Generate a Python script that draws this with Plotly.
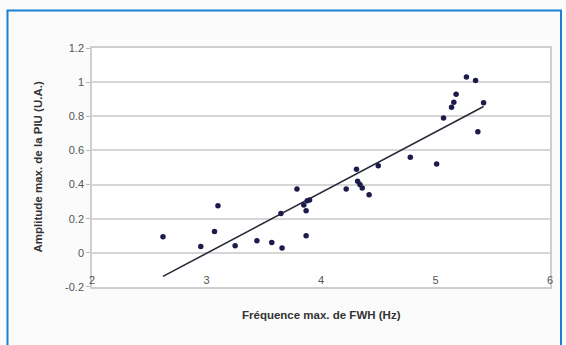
import numpy as np
import plotly.graph_objects as go

freq = [2.62, 2.95, 3.07, 3.10, 3.25, 3.44, 3.57, 3.65, 3.66, 3.79,
        3.85, 3.87, 3.88, 3.90, 3.87, 4.22, 4.31, 4.32, 4.34, 4.36,
        4.42, 4.50, 4.78, 5.01, 5.07, 5.14, 5.16, 5.18, 5.27, 5.35,
        5.42, 5.37]
ampl = [0.094, 0.037, 0.125, 0.276, 0.041, 0.070, 0.060, 0.230, 0.028, 0.374,
        0.280, 0.247, 0.305, 0.310, 0.100, 0.374, 0.490, 0.420, 0.400, 0.380,
        0.340, 0.510, 0.560, 0.520, 0.790, 0.853, 0.883, 0.930, 1.030, 1.010,
        0.880, 0.710]

x_ticks = [2, 3, 4, 5, 6]
y_ticks = [-0.2, 0, 0.2, 0.4, 0.6, 0.8, 1, 1.2]
y_labels = ["-0.2", "0", "0.2", "0.4", "0.6", "0.8", "1", "1.2"]

x_title = "Fréquence max. de FWH (Hz)"
y_title = "Amplitude max. de la PIU (U.A.)"

slope, intercept = np.polyfit(freq, ampl, 1)
fx = [min(freq), max(freq)]
fy = [slope * v + intercept for v in fx]

W, H = 566, 345
L, R, T, B = 92, 16, 48, 58
pw, ph = W - L - R, H - T - B

fig = go.Figure()
fig.add_trace(go.Scatter(x=fx, y=fy, mode="lines",
                         line=dict(color="#2a2a3a", width=1.6),
                         hoverinfo="skip", showlegend=False))
fig.add_trace(go.Scatter(x=freq, y=ampl, mode="markers",
                         marker=dict(color="#1c1c4c", size=5.5),
                         showlegend=False))

font = "Liberation Sans, Arial, sans-serif"
fig.update_layout(
    width=W, height=H,
    margin=dict(l=L, r=R, t=T, b=B),
    paper_bgcolor="#fbfbfb",
    plot_bgcolor="#ffffff",
    font=dict(family=font, size=11, color="#555555"),
    xaxis=dict(range=[2, 6], tickvals=x_ticks, showgrid=False, zeroline=False,
               showline=True, linecolor="#cfcfcf", linewidth=1.5, mirror=True,
               ticklabelposition="inside", ticklabeloverflow="allow", ticks="",
               tickfont=dict(size=11, color="#555555")),
    yaxis=dict(range=[-0.2005, 1.2005], tickvals=y_ticks, ticktext=y_labels,
               showgrid=True, gridcolor="#d6d6d6", gridwidth=1.5,
               ticklabeloverflow="allow",
               zeroline=False, showline=True, linecolor="#cfcfcf", linewidth=1.5,
               mirror=True, ticks="outside", ticklen=4, tickcolor="#bbbbbb",
               tickfont=dict(size=11, color="#555555")),
    shapes=[dict(type="rect", xref="paper", yref="paper",
                 x0=(7.5 - L) / pw, x1=(561 - L) / pw,
                 y0=(H - B - 360) / ph, y1=(H - B - 10.5) / ph,
                 line=dict(color="#1a80d0", width=2), fillcolor="rgba(0,0,0,0)",
                 layer="below")],
    annotations=[
        dict(text="<b>" + x_title + "</b>", xref="paper", yref="paper",
             x=0.5, y=(H - B - 315) / ph, xanchor="center", yanchor="middle",
             showarrow=False, font=dict(size=11.5, color="#333333")),
        dict(text="<b>" + y_title + "</b>", xref="paper", yref="paper",
             x=(37 - L) / pw, y=0.5, xanchor="center", yanchor="middle",
             textangle=-90, showarrow=False,
             font=dict(size=11.5, color="#333333")),
    ],
)

fig.write_html("out.html")
